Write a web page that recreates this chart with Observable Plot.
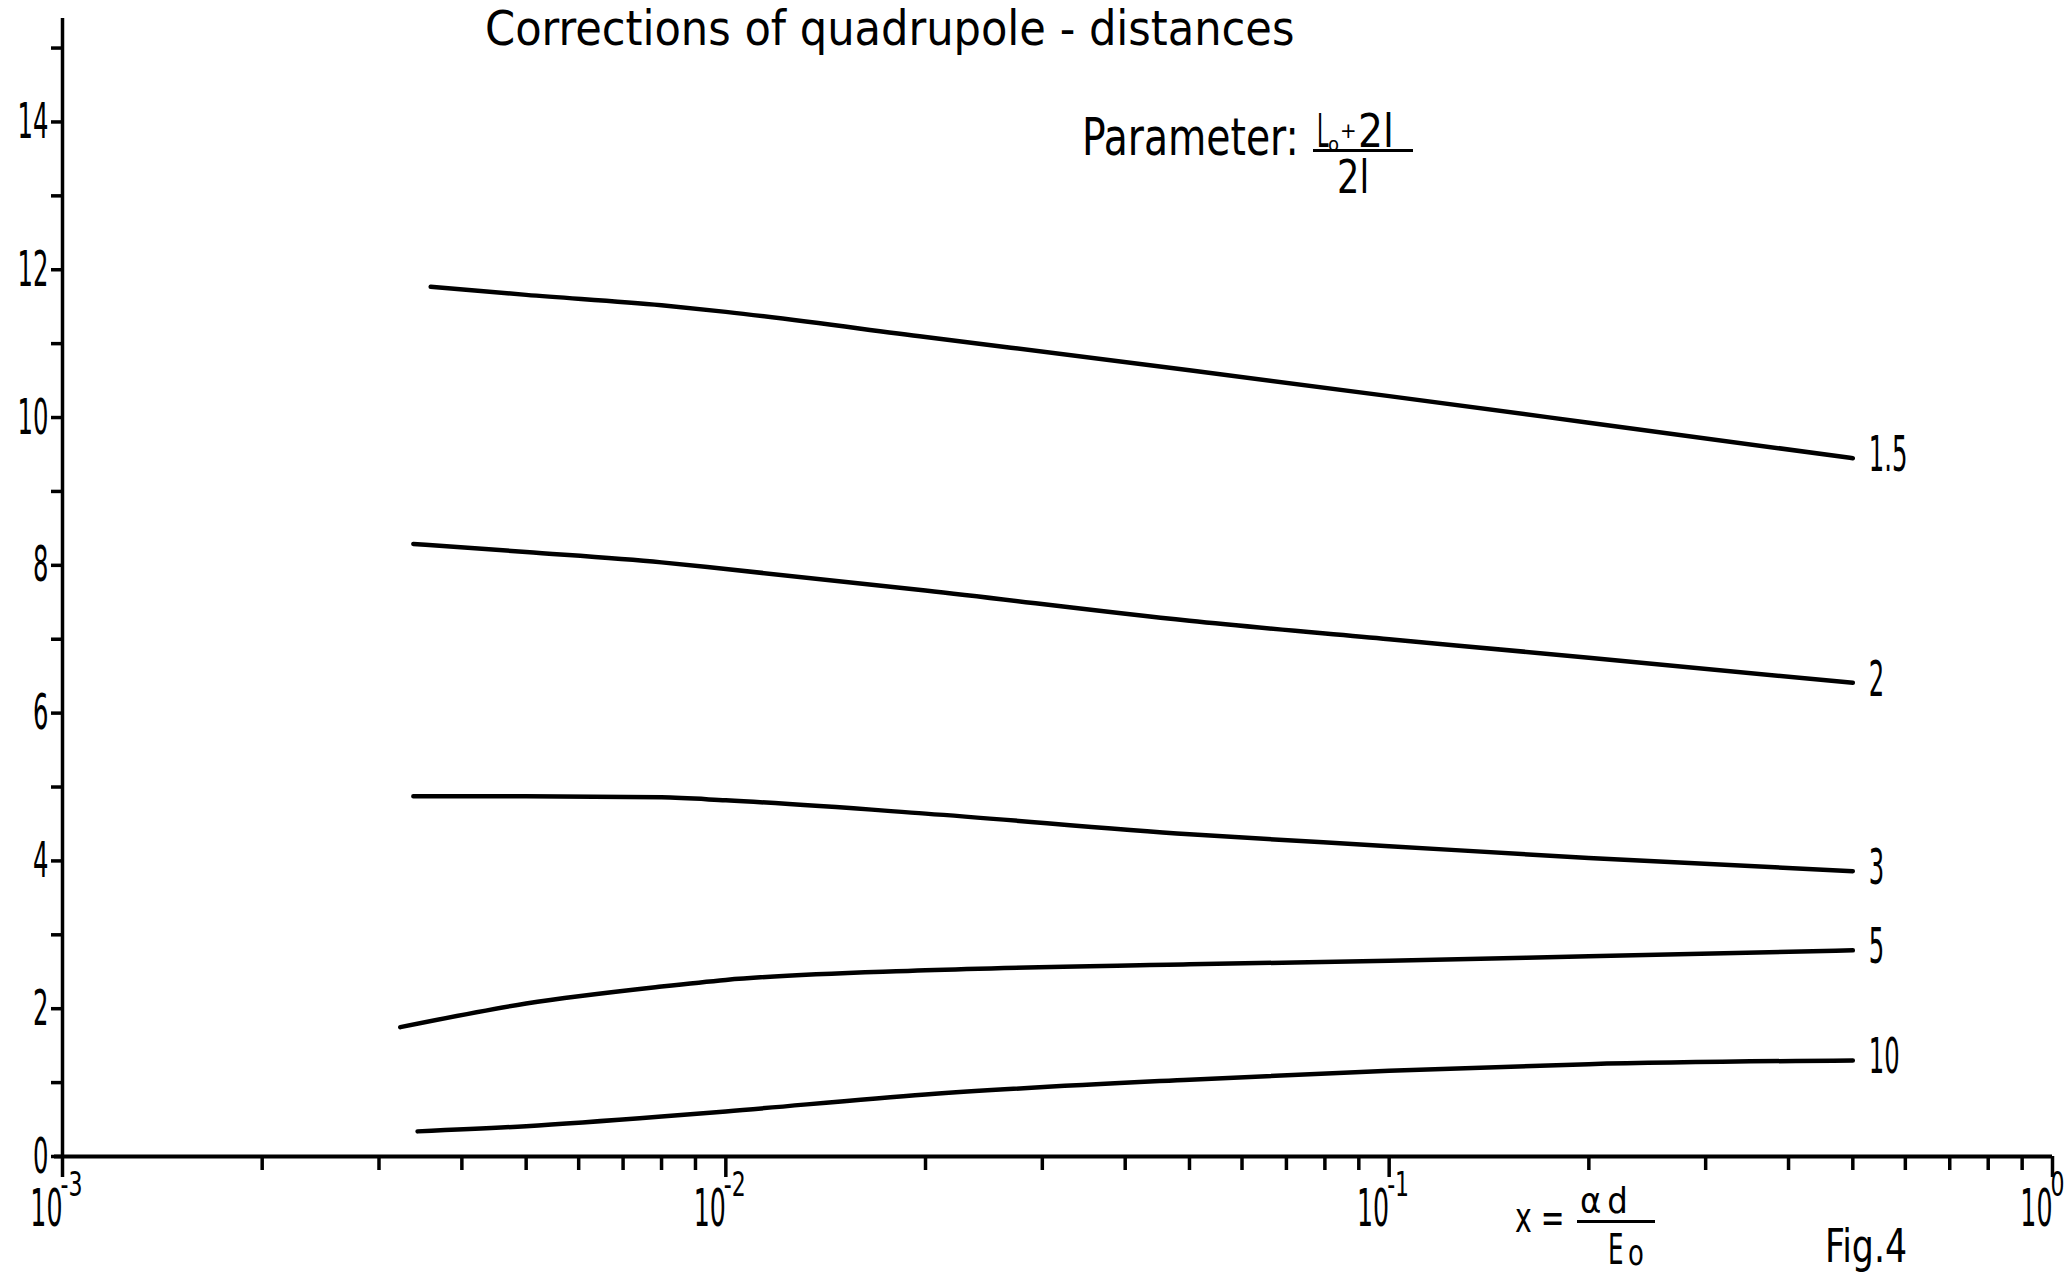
<!DOCTYPE html>
<html>
<head>
<meta charset="utf-8">
<script src="https://cdn.jsdelivr.net/npm/d3@7"></script>
<script src="https://cdn.jsdelivr.net/npm/@observablehq/plot@0.6"></script>
<style>
  body { margin: 0; background: #fff; }
  #wrap { position: relative; width: 2069px; height: 1274px; overflow: hidden; background: #fff; color: #000;
    font-family: "DejaVu Sans Condensed", "DejaVu Sans", sans-serif; font-stretch: condensed; }
  #wrap svg { position: absolute; left: 0; top: 0; }
  #wrap svg text { font-stretch: condensed; }
  .ann { position: absolute; white-space: nowrap; line-height: 1; transform-origin: 0 0; }
  .bar { position: absolute; background: #000; height: 3px; }
</style>
</head>
<body>
<div id="wrap"></div>
<script>
// ---- data ----
const curveNames = ["1.5", "2", "3", "5", "10"];
const curveStartX = [0.00359, 0.00338, 0.00338, 0.00323, 0.00343];
const sampleX = [0.005, 0.008, 0.01, 0.02, 0.05, 0.1, 0.2, 0.5];
// first value is at the curve's start x, then one value per sampleX
const y15 = [11.77, 11.66, 11.52, 11.43, 11.09, 10.64, 10.29, 9.93, 9.45];
const y2  = [8.29, 8.18, 8.04, 7.95, 7.66, 7.25, 7.00, 6.75, 6.41];
const y3  = [4.875, 4.875, 4.86, 4.82, 4.64, 4.36, 4.20, 4.04, 3.86];
const y5  = [1.75, 2.07, 2.30, 2.39, 2.52, 2.60, 2.65, 2.71, 2.79];
const y10 = [0.34, 0.41, 0.54, 0.61, 0.84, 1.04, 1.16, 1.25, 1.30];

const yTicks = [0,1,2,3,4,5,6,7,8,9,10,11,12,13,14,15];
const yTickLabels = [0, 2, 4, 6, 8, 10, 12, 14];
const xMajorTicks = [0.001, 0.01, 0.1, 1];
const xMajorBase = ["10", "10", "10", "10"];
const xMajorExponents = ["-3", "-2", "-1", "0"];
const xMinorMultipliers = [2, 3, 4, 5, 6, 7, 8, 9];

// ---- tables built from the arrays ----
const yByCurve = [y15, y2, y3, y5, y10];
const rows = curveNames.flatMap((name, i) =>
  [curveStartX[i], ...sampleX].map((x, j) => ({name, x, y: yByCurve[i][j]})));
const ends = curveNames.map((name, i) => ({
  name, x: sampleX[sampleX.length - 1], y: yByCurve[i][yByCurve[i].length - 1]
}));
const xMinorTicks = xMajorTicks.slice(0, 3).flatMap(d => xMinorMultipliers.map(m => m * d));
const majors = xMajorTicks.map((x, i) => ({x, base: xMajorBase[i], exp: xMajorExponents[i]}));

const FONT = '"DejaVu Sans Condensed", "DejaVu Sans", sans-serif';

const chart = Plot.plot({
  width: 2069,
  height: 1274,
  marginLeft: 62,
  marginRight: 17,
  marginTop: 18,
  marginBottom: 118,
  x: {type: "log", domain: [0.001, 1]},
  y: {domain: [0, 15.4]},
  style: {fontFamily: FONT, background: "white", color: "black", overflow: "visible"},
  marks: [
    Plot.axisY({ticks: yTicks, tickSize: 11, tickPadding: 3, strokeWidth: 3.5,
      tickFormat: d => yTickLabels.includes(d) ? String(d) : "", fontSize: 50, label: null}),
    Plot.axisX({ticks: xMinorTicks, tickSize: 14, strokeWidth: 3.5, tickFormat: () => "", label: null}),
    Plot.axisX({ticks: xMajorTicks, tickSize: 21, strokeWidth: 3.5, tickFormat: () => "", label: null}),
    Plot.ruleX([0.001], {stroke: "black", strokeWidth: 3.5}),
    Plot.ruleY([0], {stroke: "black", strokeWidth: 4, insetLeft: -8}),
    Plot.text(majors, {x: "x", frameAnchor: "bottom", text: "base", textAnchor: "end",
      dx: 0, dy: 53, fontSize: 52, lineAnchor: "middle"}),
    Plot.text(majors, {x: "x", frameAnchor: "bottom", text: "exp", textAnchor: "start",
      dx: -2, dy: 29, fontSize: 34, lineAnchor: "middle"}),
    Plot.line(rows, {x: "x", y: "y", z: "name", stroke: "black", strokeWidth: 4.5,
      curve: "monotone-x", strokeLinecap: "round"}),
    Plot.text(ends, {x: "x", y: "y", text: "name", textAnchor: "start", dx: 16, dy: -3,
      fontSize: 50, lineAnchor: "middle"})
  ]
});

const wrap = document.getElementById("wrap");
wrap.appendChild(chart);

// condense the digit labels horizontally (the original uses a narrow stencil lettering)
chart.querySelectorAll("text").forEach(t => {
  const g = t.closest("[font-size]");
  const fs = g ? parseFloat(g.getAttribute("font-size")) : 10;
  const f = fs >= 45 ? 0.54 : 0.72;
  const tr = t.getAttribute("transform");
  if (tr && /^translate\(/.test(tr)) {
    t.setAttribute("transform", tr + ` scale(${f},1)`);
  } else {
    const len = t.getComputedTextLength();
    if (len > 0) {
      t.setAttribute("textLength", (len * f).toFixed(1));
      t.setAttribute("lengthAdjust", "spacingAndGlyphs");
    }
  }
});

// ---- annotations (title, parameter, axis label, figure number) ----
function ann(html, left, baseline, fs, sx = 1, extra = "") {
  const d = document.createElement("div");
  d.className = "ann";
  d.style.left = left + "px";
  d.style.top = (baseline - 0.846 * fs) + "px";
  d.style.fontSize = fs + "px";
  d.style.transform = `scaleX(${sx})`;
  if (extra) d.style.cssText += extra;
  d.innerHTML = html;
  wrap.appendChild(d);
}
function bar(left, top, width) {
  const d = document.createElement("div");
  d.className = "bar";
  d.style.left = left + "px";
  d.style.top = top + "px";
  d.style.width = width + "px";
  wrap.appendChild(d);
}
ann("Corrections of quadrupole - distances", 485, 45, 48);
ann("Parameter:", 1082, 155, 52, 0.84);
ann("L", 1317, 147, 46, 0.5);
ann("o", 1328, 151, 20);
ann("+", 1340, 139, 22);
ann("2l", 1358, 147, 46, 0.95);
bar(1313, 149, 100);
ann("2l", 1337, 193, 46, 0.85);
ann("x =", 1515, 1233, 42, 0.75);
ann("αd", 1580, 1213, 36, 1, "letter-spacing:6px;");
bar(1577, 1220, 78);
ann("E", 1608, 1265, 42, 0.65);
ann("o", 1628, 1265, 36, 0.8);
ann("Fig.4", 1825, 1262, 46, 0.84);
</script>
</body>
</html>
